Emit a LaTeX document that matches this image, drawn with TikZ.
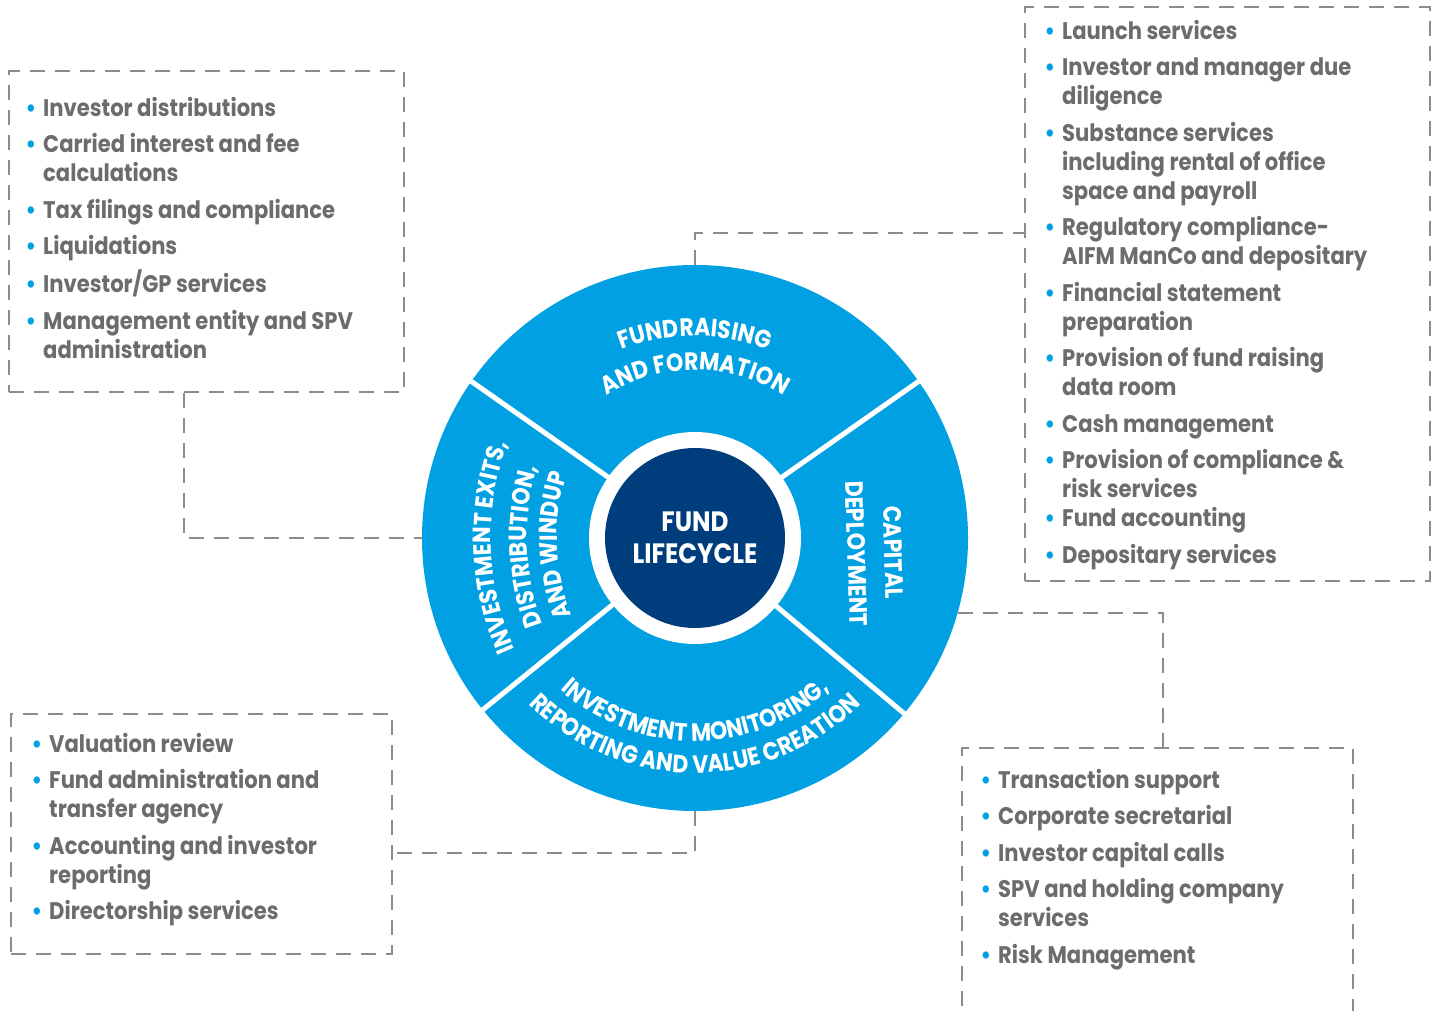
\documentclass[tikz,border=0pt]{standalone}
\usepackage{fontspec}
\setmainfont{Poppins}[FakeStretch=0.88]
\usetikzlibrary{decorations.text}
\definecolor{wheelblue}{RGB}{0,160,227}
\definecolor{hubnavy}{RGB}{0,61,124}
\definecolor{txtgray}{RGB}{108,108,110}
\definecolor{dashgray}{RGB}{140,140,140}
\newcommand{\bul}{\llap{\textcolor{wheelblue}{\textbullet}\hspace{7pt}}}
\newcommand{\wheelfont}{\fontsize{25}{25}\selectfont\bfseries}

\begin{document}
\begin{tikzpicture}[x=1pt, y=1pt,
    link/.style={draw=dashgray, line width=2pt, dash pattern=on 15pt off 10pt},
    svcbox/.style={link, rectangle, inner sep=0pt},
    svclist/.style={anchor=north west, inner sep=0pt, align=left, text=txtgray,
                    font=\fontsize{24}{29}\selectfont\bfseries},
    divider/.style={white, line width=5pt},
    arctext/.style={decorate, decoration={text along path, text align=center,
                    text color=white, text={|\wheelfont|#1}}}]
\useasboundingbox (0,0) rectangle (1435,1010);

% service boxes
\node[svcbox, minimum width=395pt, minimum height=321pt] (distbox) at (206.5,778.5) {};
\node[svcbox, minimum width=405pt, minimum height=574pt] (setupbox) at (1227.5,716) {};
\node[svcbox, minimum width=381pt, minimum height=240pt] (valbox) at (201.5,176) {};
\node[svcbox, minimum width=391pt, minimum height=300pt] (dealbox) at (1157.5,112) {};

\node[svclist] (distlist) at (43,913) {%
\bul Investor distributions\\[7.5pt]
\bul Carried interest and fee\\
calculations\\[7.5pt]
\bul Tax filings and compliance\\[7.5pt]
\bul Liquidations\\[7.5pt]
\bul Investor/GP services\\[7.5pt]
\bul Management entity and SPV\\
administration};

\node[svclist] (setuplist) at (1062,990) {%
\bul Launch services\\[7.5pt]
\bul Investor and manager due\\
diligence\\[7.5pt]
\bul Substance services\\
including rental of office\\
space and payroll\\[7.5pt]
\bul Regulatory compliance-\\
AIFM ManCo and depositary\\[7.5pt]
\bul Financial statement\\
preparation\\[7.5pt]
\bul Provision of fund raising\\
data room\\[7.5pt]
\bul Cash management\\[7.5pt]
\bul Provision of compliance \&\\
risk services\\
\bul Fund accounting\\[7.5pt]
\bul Depositary services};

\node[svclist] (vallist) at (49,277) {%
\bul Valuation review\\[7.5pt]
\bul Fund administration and\\
transfer agency\\[7.5pt]
\bul Accounting and investor\\
reporting\\[7.5pt]
\bul Directorship services};

\node[svclist] (deallist) at (998,241) {%
\bul Transaction support\\[7.5pt]
\bul Corporate secretarial\\[7.5pt]
\bul Investor capital calls\\[7.5pt]
\bul SPV and holding company\\
services\\[7.5pt]
\bul Risk Management};

% the wheel
\node[circle, fill=wheelblue, minimum size=546pt, inner sep=0pt] (wheel) at (695,472) {};
\foreach \ang in {35,145,219,320}
    \draw[divider] (wheel.center) -- (wheel.\ang);
\node[circle, fill=white, minimum size=212pt, inner sep=0pt] (ring) at (wheel.center) {};
\node[circle, fill=hubnavy, minimum size=180pt, inner sep=0pt, text=white, align=center,
      font=\fontsize{28}{32}\selectfont\bfseries] (hub) at (wheel.center) {FUND\\LIFECYCLE};

\coordinate (lefthub) at ([xshift=70pt]wheel.center);
\path[arctext={FUNDRAISING}] ([shift={(150:202)}]wheel.center) arc[start angle=150, end angle=30, radius=202];
\path[arctext={AND FORMATION}] ([shift={(150:168)}]wheel.center) arc[start angle=150, end angle=30, radius=168];
\path[arctext={INVESTMENT MONITORING,}] ([shift={(205:203)}]wheel.center) arc[start angle=205, end angle=335, radius=203];
\path[arctext={REPORTING AND VALUE CREATION}] ([shift={(200:235)}]wheel.center) arc[start angle=200, end angle=340, radius=235];
\path[arctext={INVESTMENT EXITS,}] ([shift={(215:274)}]lefthub) arc[start angle=215, end angle=149, radius=274];
\path[arctext={DISTRIBUTION,}] ([shift={(215:238)}]lefthub) arc[start angle=215, end angle=149, radius=238];
\path[arctext={AND WINDUP}] ([shift={(215:208)}]lefthub) arc[start angle=215, end angle=149, radius=208];
\node[rotate=-88, text=white, align=center, font=\fontsize{25}{37}\selectfont\bfseries]
    (deploy) at (875,457) {CAPITAL\\DEPLOYMENT};

% connectors
\coordinate (fundtop) at ([yshift=32pt]wheel.north);
\coordinate (valtop) at ([yshift=-42pt]wheel.south);
\draw[link] (distbox.south west) ++(176,0) |- (wheel.west);
\draw[link] (wheel.north) -- (fundtop) -- (fundtop -| setupbox.west);
\draw[link] (wheel.-16) -| ([xshift=5.5pt]dealbox.north);
\draw[link] (wheel.south) -- (valtop) -- (valtop -| valbox.east);
\end{tikzpicture}
\end{document}
